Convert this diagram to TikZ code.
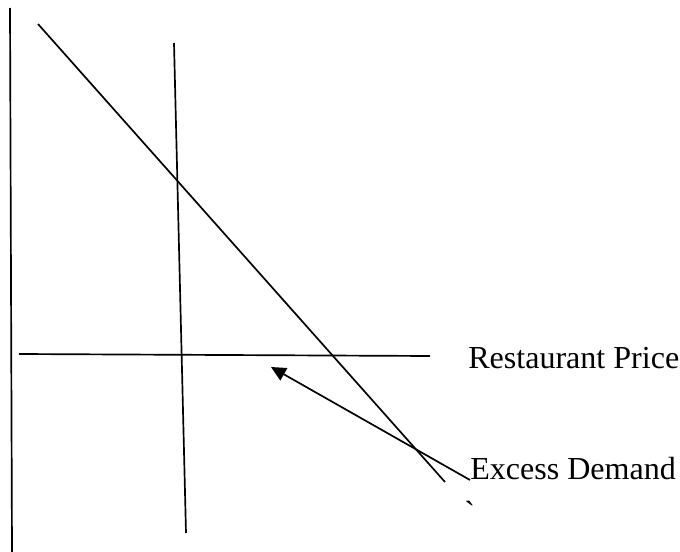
\documentclass[tikz,border=0pt]{standalone}
\usepackage{fontspec}
\setmainfont{Liberation Serif}
\usetikzlibrary{arrows.meta}

\tikzset{
  curve/.style={line width=1.2pt},
  label text/.style={anchor=base west, inner sep=0pt, font=\fontsize{22.8}{27}\selectfont},
}

\begin{document}
\begin{tikzpicture}[x=0.025cm, y=-0.025cm]
  \useasboundingbox (0, 0) rectangle (680, 552);

  \coordinate (ytop) at (10, 8);
  \coordinate (ybot) at (12, 552);
  \coordinate (dtop) at (38, 24);
  \coordinate (dbot) at (445, 482);
  \coordinate (stop) at (174, 43);
  \coordinate (sbot) at (186, 533);
  \coordinate (pleft) at (19, 354);
  \coordinate (pright) at (430, 356);
  \coordinate (gap) at (271, 367);

  \node[label text] (price) at (468, 368) {Restaurant Price};
  \node[label text] (excess) at (470, 479) {Excess Demand};
  \node[label text] (tick) at (464, 523) {\textasciigrave};

  \draw[curve] (ytop) -- (ybot);
  \draw[curve] (dtop) -- (dbot);
  \draw[curve] (stop) -- (sbot);
  \draw[curve] (pleft) -- (pright);
  \draw[curve, -{Triangle[length=0.37cm, width=0.35cm]}] (excess.base west) ++(0, 1) -- (gap);
\end{tikzpicture}
\end{document}
